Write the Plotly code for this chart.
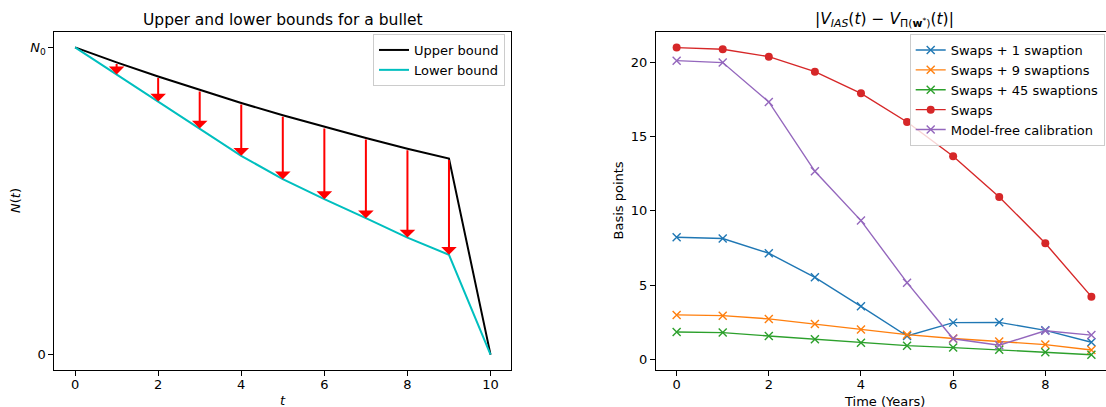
import plotly.graph_objects as go

# ---------------- data ----------------
t_vals = [0, 1, 2, 3, 4, 5, 6, 7, 8, 9, 10]
upper_bound = [1.0, 0.951, 0.905, 0.861, 0.819, 0.779, 0.741, 0.705, 0.670, 0.638, 0.0]
lower_bound = [1.0, 0.912, 0.824, 0.736, 0.647, 0.571, 0.506, 0.444, 0.381, 0.325, 0.0]
arrow_t = [1, 2, 3, 4, 5, 6, 7, 8, 9]

years = [0, 1, 2, 3, 4, 5, 6, 7, 8, 9]
swaps_1 = [8.22, 8.13, 7.14, 5.52, 3.57, 1.57, 2.47, 2.49, 1.95, 1.15]
swaps_9 = [2.99, 2.94, 2.72, 2.38, 2.00, 1.66, 1.40, 1.20, 0.99, 0.63]
swaps_45 = [1.84, 1.80, 1.57, 1.35, 1.12, 0.92, 0.79, 0.64, 0.48, 0.31]
swaps_only = [20.99, 20.88, 20.38, 19.37, 17.91, 15.98, 13.67, 10.93, 7.81, 4.22]
model_free = [20.11, 19.98, 17.33, 12.66, 9.34, 5.16, 1.38, 0.95, 1.92, 1.63]

left_xticks = [0, 2, 4, 6, 8, 10]
left_yticks = [0, 1]
left_yticktext = ["0", "<i>N</i><sub>0</sub>"]
right_xticks = [0, 2, 4, 6, 8]
right_yticks = [0, 5, 10, 15, 20]

# ---------------- layout constants ----------------
W, H = 1106, 407
FONT = "DejaVu Sans"
FS = 13
FS_TITLE = 15.5
C_BLUE, C_ORANGE, C_GREEN, C_RED, C_PURPLE = "#1f77b4", "#ff7f0e", "#2ca02c", "#d62728", "#9467bd"

def px_x(p):
    return p / W

def px_y(p):
    return 1 - p / H

fig = go.Figure()

# left panel
fig.add_trace(go.Scatter(x=t_vals, y=upper_bound, mode="lines", name="Upper bound",
                         line=dict(color="black", width=2), xaxis="x", yaxis="y", legend="legend"))
fig.add_trace(go.Scatter(x=t_vals, y=lower_bound, mode="lines", name="Lower bound",
                         line=dict(color="#00bfbf", width=2), xaxis="x", yaxis="y", legend="legend"))

# right panel
def xtrace(y, name, color):
    return go.Scatter(x=years, y=y, mode="lines+markers", name=name,
                      line=dict(color=color, width=1.4),
                      marker=dict(symbol="x-thin", size=8, line=dict(color=color, width=1.4)),
                      xaxis="x2", yaxis="y2", legend="legend2")

fig.add_trace(xtrace(swaps_1, "Swaps + 1 swaption", C_BLUE))
fig.add_trace(xtrace(swaps_9, "Swaps + 9 swaptions", C_ORANGE))
fig.add_trace(xtrace(swaps_45, "Swaps + 45 swaptions", C_GREEN))
fig.add_trace(go.Scatter(x=years, y=swaps_only, mode="lines+markers", name="Swaps",
                         line=dict(color=C_RED, width=1.4),
                         marker=dict(symbol="circle", size=8, color=C_RED),
                         xaxis="x2", yaxis="y2", legend="legend2"))
fig.add_trace(xtrace(model_free, "Model-free calibration", C_PURPLE))

annotations = []
# red arrows from upper to lower bound
for t in arrow_t:
    annotations.append(dict(x=t, y=lower_bound[t], ax=t, ay=upper_bound[t],
                            xref="x", yref="y", axref="x", ayref="y",
                            text="", showarrow=True, arrowhead=1, arrowsize=1.3,
                            arrowwidth=2, arrowcolor="#ff0000", standoff=0, startstandoff=0))

txt = dict(family=FONT, size=FS, color="black")
# titles
annotations.append(dict(text="Upper and lower bounds for a bullet", x=px_x(282.8), y=px_y(20),
                        xref="paper", yref="paper", showarrow=False, xanchor="center", yanchor="middle",
                        font=dict(family=FONT, size=FS_TITLE, color="black")))
annotations.append(dict(text="|<i>V</i><sub><i>IAS</i></sub>(<i>t</i>) − <i>V</i><sub>Π(<b>w</b><sup>*</sup>)</sub>(<i>t</i>)|",
                        x=px_x(884), y=px_y(20),
                        xref="paper", yref="paper", showarrow=False, xanchor="center", yanchor="middle",
                        font=dict(family=FONT, size=FS_TITLE, color="black")))
# axis titles
annotations.append(dict(text="<i>N</i>(<i>t</i>)", x=px_x(16), y=px_y(201), xref="paper", yref="paper",
                        showarrow=False, textangle=-90, xanchor="center", yanchor="middle", font=txt))
annotations.append(dict(text="<i>t</i>", x=px_x(282.8), y=px_y(400.5), xref="paper", yref="paper",
                        showarrow=False, xanchor="center", yanchor="middle", font=txt))
annotations.append(dict(text="Basis points", x=px_x(618.5), y=px_y(201), xref="paper", yref="paper",
                        showarrow=False, textangle=-90, xanchor="center", yanchor="middle", font=txt))
annotations.append(dict(text="Time (Years)", x=px_x(884), y=px_y(401.5), xref="paper", yref="paper",
                        showarrow=False, xanchor="center", yanchor="middle", font=txt))

axis_common = dict(showgrid=False, zeroline=False, showline=True, linecolor="black", linewidth=1,
                   ticks="outside", ticklen=5, tickwidth=1, tickcolor="black",
                   tickfont=dict(family=FONT, size=FS, color="black"))

ydom = [px_y(370), px_y(32)]

legend_common = dict(xanchor="right", yanchor="top",
                     bgcolor="rgba(255,255,255,0.8)", bordercolor="#cccccc", borderwidth=1,
                     font=dict(family=FONT, size=FS, color="black"), itemwidth=30, tracegroupgap=0)

fig.update_layout(
    width=W, height=H, autosize=False,
    margin=dict(l=0, r=0, t=0, b=0),
    paper_bgcolor="white", plot_bgcolor="white",
    font=dict(family=FONT, size=FS, color="black"),
    xaxis=dict(domain=[px_x(54.3), px_x(511.3)], range=[-0.5, 10.5], tickvals=left_xticks,
               mirror=True, anchor="y", ticklabelstandoff=-3, **axis_common),
    yaxis=dict(domain=ydom, range=[-0.05, 1.05], tickvals=left_yticks, ticktext=left_yticktext,
               mirror=True, anchor="x", **axis_common),
    xaxis2=dict(domain=[px_x(655.9), 1.0], range=[-0.45, 9.317], tickvals=right_xticks,
                mirror=True, anchor="y2", ticklabelstandoff=-3, **axis_common),
    yaxis2=dict(domain=ydom, range=[-0.72, 22.04], tickvals=right_yticks,
                mirror=False, anchor="x2", **axis_common),
    legend=dict(x=px_x(505), y=px_y(34), **legend_common),
    legend2=dict(x=px_x(1104.7), y=px_y(34), **legend_common),
    annotations=annotations,
    showlegend=True,
)

fig.write_html("out.html", config={"displayModeBar": False},
               post_script="document.body.style.margin='0';document.body.style.overflow='hidden';")
